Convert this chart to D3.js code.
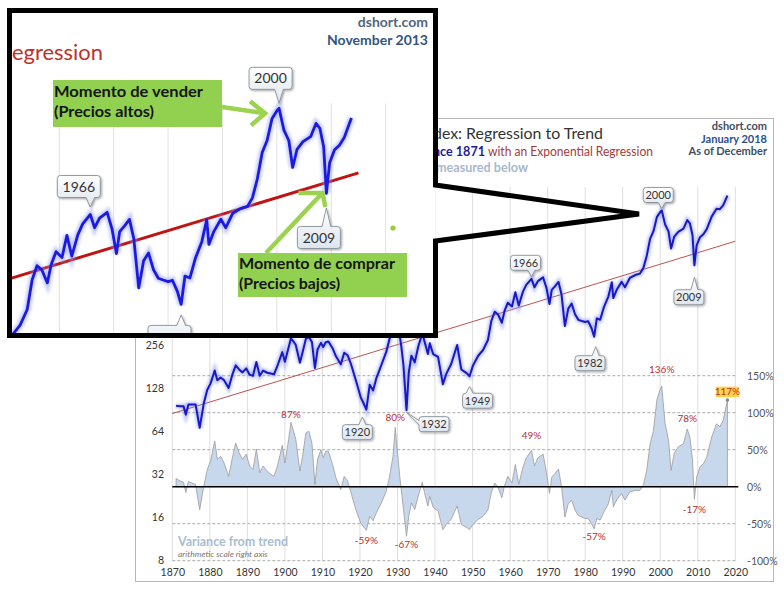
<!DOCTYPE html>
<html><head><meta charset="utf-8">
<script src="https://cdn.jsdelivr.net/npm/d3@7"></script>
<style>
body{margin:0;background:#fff;}
svg{display:block;font-family:Lato,"Open Sans",sans-serif;}
</style>
</head><body>
<svg id="c" width="784" height="592"></svg>
<script>
// ---------------- DATA ----------------
const years = [1871,1872,1873,1873.6,1874.3,1875.2,1876.2,1877.3,1878.4,1879.3,1880.2,1881.3,1882,1882.9,1883.8,1885,1886,1886.9,1887.8,1888.7,1889.7,1890.6,1891.5,1892.4,1893.3,1894.2,1895.3,1896.2,1897.1,1898,1899.3,1900,1901,1901.6,1902.2,1902.9,1904,1904.7,1905.6,1906.4,1907.2,1908,1908.7,1909.6,1910.2,1910.9,1911.6,1912.7,1913.6,1914.9,1915.8,1916.7,1917.6,1918.9,1920.2,1920.8,1921.7,1922.6,1923.5,1924.4,1925.7,1927,1927.9,1928.8,1929.4,1930,1930.6,1931,1931.6,1932.4,1933,1933.7,1934.6,1935.5,1936.6,1937.2,1938.1,1938.6,1939.5,1940.8,1942.1,1943,1944.3,1945.9,1947,1948.4,1949.2,1950.1,1951.5,1952.8,1954.1,1955,1955.9,1956.8,1957.8,1958.5,1959.4,1960.5,1961.4,1962.3,1963.4,1964.3,1965.7,1966.5,1967.4,1968.8,1969.7,1970.5,1971.1,1972,1972.9,1973.7,1974.6,1975.5,1976.4,1977.3,1978.2,1979.1,1980,1980.8,1981.7,1982.4,1983.1,1984,1985,1986.2,1987.1,1987.5,1988.4,1989.7,1990.6,1991.9,1993.3,1994.6,1995.5,1996.4,1997.3,1998.2,1999.1,2000,2000.4,2001.3,2002.2,2002.9,2003.7,2004.8,2006.2,2007.2,2007.9,2008.6,2009.1,2009.7,2010.6,2011.5,2012.4,2013.7,2015,2015.9,2016.8,2017.9];
// inflation-adjusted S&P composite (log scale, left axis)
const realPrice = [97,96,96,84,99,99,99,68,101,125,139,171,146,153,146,129,160,186,174,166,177,160,157,196,157,171,165,163,161,184,230,197,249,287,275,258,194,229,286,294,271,178,240,267,250,270,273,245,215,189,228,219,190,146,111,103,91,136,124,152,187,231,285,358,462,379,299,254,185,90,165,217,195,250,311,273,223,265,223,213,137,162,190,258,174,164,156,185,217,238,280,380,441,422,369,445,510,480,604,487,607,681,750,654,722,767,645,500,628,667,713,583,350,464,503,424,387,380,374,379,338,295,396,388,475,566,710,550,628,714,654,760,797,816,891,1084,1427,1616,2026,2202,2257,1799,1612,1222,1474,1598,1682,1931,1835,1514,933,1284,1467,1539,1672,2043,2318,2306,2462,2869];
// variance from trend, % (right axis)
const variancePct = [11,8,6,-8,7,5,3,-31,1,23,35,62,37,41,32,14,39,59,46,37,44,28,23,51,19,28,21,17,14,28,56,32,64,87,77,64,21,41,73,75,59,3,37,50,39,48,48,30,12,-4,14,8,-8,-31,-49,-53,-59,-40,-46,-35,-22,-6,14,41,80,46,14,-4,-31,-67,-40,-22,-31,-13,6,-8,-26,-13,-28,-33,-58,-51,-44,-26,-51,-55,-58,-51,-44,-40,-31,-8,5,-1,-15,1,14,5,30,3,26,39,49,28,39,44,19,-9,13,18,24,0,-41,-23,-18,-32,-39,-41,-43,-43,-50,-57,-43,-45,-34,-23,-5,-27,-18,-9,-18,-7,-5,-5,2,22,58,76,117,132,136,85,63,22,45,54,58,78,67,36,-17,13,27,31,40,67,85,81,90,117];
// exponential regression (2018 chart)
const trendYears = [1870, 2020];
const trendValues = [85.5, 1375];
// exponential regression (Nov 2013 chart, inset)
const insetTrendYears = [1940, 2015];
const insetTrendValues = [320, 1155];
const insetEndYear = 2013.85;

const xTicks = [1870,1880,1890,1900,1910,1920,1930,1940,1950,1960,1970,1980,1990,2000,2010,2020];
const leftTicks = [8,16,32,64,128,256];
const rightTicks = [-100,-50,0,50,100,150];
const insetXTicks = [1960,1970,1980,1990,2000,2010,2020];

const calloutLabels = ["2000","1966","2009","1982","1949","1920","1932"];
const calloutYears  = [2000.4,1965.7,2009.1,1982.4,1949.2,1921.7,1932.4];
const insetCalloutLabels = ["2000","1966","2009","1982"];
const insetCalloutYears  = [2000.4,1965.7,2009.1,1982.4];

const extremeYears  = [1901.6,1921.7,1929.4,1932.4,1965.7,1982.4,2000.4,2007.2,2009.1,2017.9];
const extremeValues = [87,-59,80,-67,49,-57,136,78,-17,117];

// ---------------- LAYOUT ----------------
const svg = d3.select("#c");
const defs = svg.append("defs");
const grad = defs.append("linearGradient").attr("id","cg").attr("x1",0).attr("y1",0).attr("x2",0).attr("y2",1);
grad.append("stop").attr("offset","0%").attr("stop-color","#ffffff");
grad.append("stop").attr("offset","100%").attr("stop-color","#dde5ee");
const sh = defs.append("filter").attr("id","sh").attr("x","-30%").attr("y","-30%").attr("width","160%").attr("height","160%");
sh.append("feDropShadow").attr("dx",1.2).attr("dy",1.2).attr("stdDeviation",0.9).attr("flood-color","#000").attr("flood-opacity",0.35);
const glow = defs.append("filter").attr("id","glow").attr("x","-5%").attr("y","-5%").attr("width","110%").attr("height","110%");
glow.append("feGaussianBlur").attr("stdDeviation",1.6);
defs.append("clipPath").attr("id","insetClip").append("rect").attr("x",12).attr("y",13).attr("width",421).attr("height",320);

const idx = yr => years.indexOf(yr);

function calloutPath(x, y, w, h, tx, ty, side){
  const r = 3, nw = Math.max(3.5, w*0.1);
  if(side === "bottom"){
    const nx = Math.max(x+r+nw, Math.min(x+w-r-nw, tx));
    return `M${x+r},${y}H${x+w-r}Q${x+w},${y} ${x+w},${y+r}V${y+h-r}Q${x+w},${y+h} ${x+w-r},${y+h}H${nx+nw}L${tx},${ty}L${nx-nw},${y+h}H${x+r}Q${x},${y+h} ${x},${y+h-r}V${y+r}Q${x},${y} ${x+r},${y}Z`;
  }
  if(side === "top"){
    const nx = Math.max(x+r+nw, Math.min(x+w-r-nw, tx));
    return `M${x+r},${y}H${nx-nw}L${tx},${ty}L${nx+nw},${y}H${x+w-r}Q${x+w},${y} ${x+w},${y+r}V${y+h-r}Q${x+w},${y+h} ${x+w-r},${y+h}H${x+r}Q${x},${y+h} ${x},${y+h-r}V${y+r}Q${x},${y} ${x+r},${y}Z`;
  }
  const ny = y + 5;
  return `M${x+r},${y}H${x+w-r}Q${x+w},${y} ${x+w},${y+r}V${y+h-r}Q${x+w},${y+h} ${x+w-r},${y+h}H${x+r}Q${x},${y+h} ${x},${y+h-r}V${ny+3}L${tx},${ty}L${x},${ny-1}V${y+r}Q${x},${y} ${x+r},${y}Z`;
}
function drawCallout(g, label, tx, ty, cx, cy, w, h, side, fs, showText){
  const cg = g.append("g");
  cg.append("path").attr("d", calloutPath(cx-w/2, cy-h/2, w, h, tx, ty, side))
    .attr("fill","url(#cg)").attr("stroke","#7b838c").attr("stroke-width",0.8).attr("filter","url(#sh)");
  if(showText){
    cg.append("text").attr("x",cx).attr("y",cy+fs*0.36).attr("text-anchor","middle")
      .attr("font-size",fs).attr("fill","#333").text(label);
  }
}

// ================= BACKGROUND CHART (January 2018) =================
const bg = svg.append("g");
bg.append("rect").attr("x",135.5).attr("y",118.5).attr("width",638).attr("height",463)
  .attr("fill","#fff").attr("stroke","#b8b8b8");

const x = d3.scaleLinear().domain([1870,2020]).range([172.3,735.3]);
const y = d3.scaleLog().base(2).domain([8,4096]).range([560.5,173.5]);
const yR = d3.scaleLinear().domain([-100,150]).range([560.7,375.7]);

bg.append("g").selectAll("line").data(xTicks).join("line")
  .attr("x1",d=>x(d)).attr("x2",d=>x(d)).attr("y1",187).attr("y2",561)
  .attr("stroke","#dedede").attr("stroke-width",1);
bg.append("g").selectAll("line").data(rightTicks.filter(d=>d!==0)).join("line")
  .attr("x1",x(1870)).attr("x2",x(2020)+2).attr("y1",d=>yR(d)).attr("y2",d=>yR(d))
  .attr("stroke","#a0a0a0").attr("stroke-width",0.9).attr("stroke-dasharray","3,2");

const axB = bg.append("g").attr("transform","translate(0,566)")
  .call(d3.axisBottom(x).tickValues(xTicks).tickSize(0).tickPadding(3).tickFormat(d3.format("d")));
axB.select(".domain").remove();
axB.selectAll("text").attr("font-size",10.5).attr("fill","#333").attr("font-family","Lato,sans-serif");
const axL = bg.append("g").attr("transform","translate(164,0)")
  .call(d3.axisLeft(y).tickValues(leftTicks).tickSize(0).tickPadding(0).tickFormat(d3.format("d")));
axL.select(".domain").remove();
axL.selectAll("text").attr("font-size",10.5).attr("fill","#333").attr("font-family","Lato,sans-serif");
const axR = bg.append("g").attr("transform","translate(747,0)")
  .call(d3.axisRight(yR).tickValues(rightTicks).tickSize(0).tickPadding(0).tickFormat(d=>d+"%"));
axR.select(".domain").remove();
axR.selectAll("text").attr("font-size",10.5).attr("fill","#555").attr("font-family","Lato,sans-serif");

const ids = d3.range(years.length);
bg.append("path").datum(ids)
  .attr("d", d3.area().x(i=>x(years[i])).y0(yR(0)).y1(i=>yR(variancePct[i])))
  .attr("fill","#c7d7ec").attr("stroke","#9a9a9a").attr("stroke-width",0.8);
bg.append("line").attr("x1",x(1870)).attr("x2",x(2020)+3).attr("y1",yR(0)).attr("y2",yR(0))
  .attr("stroke","#000").attr("stroke-width",1.6);

bg.append("path").datum([0,1])
  .attr("d", d3.line().x(i=>x(trendYears[i])).y(i=>y(trendValues[i])))
  .attr("fill","none").attr("stroke","#b9544c").attr("stroke-width",1);

const priceLine = d3.line().x(i=>x(years[i])).y(i=>y(realPrice[i]));
bg.append("path").datum(ids).attr("d",priceLine)
  .attr("fill","none").attr("stroke","#7f8ef0").attr("stroke-width",5).attr("opacity",0.55).attr("filter","url(#glow)");
bg.append("path").datum(ids).attr("d",priceLine)
  .attr("fill","none").attr("stroke","#1818c4").attr("stroke-width",2).attr("stroke-linejoin","round");

const labelDy = {"87":-4,"80":-7,"49":-11,"136":-13,"78":-7,"117":-5,"-59":14,"-67":12,"-57":11,"-17":14};
extremeYears.forEach((yr,k)=>{
  const v = extremeValues[k];
  const lx = x(yr), ly = yR(v) + labelDy[String(v)];
  if(v === 117){
    bg.append("rect").attr("x",lx-11.5).attr("y",ly-8.5).attr("width",23).attr("height",10.5).attr("fill","#ffd24a");
    bg.append("circle").attr("cx",lx).attr("cy",yR(v)).attr("r",1.8).attr("fill","#888");
  }
  bg.append("text").attr("x",lx).attr("y",ly).attr("text-anchor","middle")
    .attr("font-size",10).attr("fill","#b8312f").text(v+"%");
});

bg.append("text").attr("x",178).attr("y",546).attr("font-size",13).attr("font-weight","bold")
  .attr("fill","#a9bdd3").attr("textLength",110).attr("lengthAdjust","spacingAndGlyphs").text("Variance from trend");
bg.append("text").attr("x",178).attr("y",557).attr("font-size",8.5).attr("font-style","italic")
  .attr("fill","#777").text("arithmetic scale right axis");

const bgCalloutLayout = {
  "2000":{tip:[0,-2],box:[-3.5,-13.5],side:"bottom"},
  "1966":{tip:[0,-2],box:[-6,-14],side:"bottom"},
  "2009":{tip:[0,12],box:[-5.5,20],side:"top"},
  "1982":{tip:[1.5,10],box:[-5.7,16.5],side:"top"},
  "1949":{tip:[0,10.5],box:[8,14],side:"top"},
  "1920":{tip:[-4,7.5],box:[-5,15],side:"top"},
  "1932":{tip:[0,2],box:[27.5,11.8],side:"left"}
};
calloutLabels.forEach((lab,k)=>{
  const i = idx(calloutYears[k]);
  const L = bgCalloutLayout[lab];
  const tx = x(years[i]) + L.tip[0], ty = y(realPrice[i]) + L.tip[1];
  drawCallout(bg, lab, tx, ty, tx+L.box[0], ty+L.box[1], 30, 15, L.side, 11, true);
});

bg.append("text").attr("x",433).attr("y",139).attr("font-size",15.5).attr("fill","#333")
  .attr("textLength",170).attr("lengthAdjust","spacingAndGlyphs").text("dex: Regression to Trend");
bg.append("text").attr("x",433).attr("y",156).attr("font-size",13).attr("font-weight","bold").attr("fill","#1d1d9a")
  .attr("textLength",52).attr("lengthAdjust","spacingAndGlyphs").text("nce 1871");
bg.append("text").attr("x",488).attr("y",156).attr("font-size",13).attr("fill","#a63a3a")
  .attr("textLength",165).attr("lengthAdjust","spacingAndGlyphs").text("with an Exponential Regression");
bg.append("text").attr("x",436).attr("y",172).attr("font-size",13).attr("font-weight","bold").attr("fill","#aab8cc")
  .attr("textLength",92).attr("lengthAdjust","spacingAndGlyphs").text("measured below");
[["dshort.com",130,"#3e4f62"],["January 2018",142.7,"#2b4f8c"],["As of December",155,"#3e4f62"]].forEach(t=>{
  bg.append("text").attr("x",767).attr("y",t[1]).attr("text-anchor","end").attr("font-size",11)
    .attr("font-weight","bold").attr("fill",t[2]).text(t[0]);
});

// ================= INSET (November 2013 chart, zoomed) =================
svg.append("rect").attr("x",9.5).attr("y",10.5).attr("width",426).attr("height",325).attr("fill","#fff");
const ins = svg.append("g").attr("clip-path","url(#insetClip)");
const xi = d3.scaleLinear().domain([1960,2020]).range([59.3,385.7]);
const yi = d3.scaleLog().base(2).domain([256,2048]).range([318.1,117.7]);

ins.append("g").selectAll("line").data(insetXTicks).join("line")
  .attr("x1",d=>xi(d)).attr("x2",d=>xi(d)).attr("y1",103).attr("y2",336)
  .attr("stroke","#e2e2e2").attr("stroke-width",1);

ins.append("text").attr("x",12).attr("y",60).attr("font-size",22)
  .attr("fill","#c0302c").attr("textLength",91).attr("lengthAdjust","spacingAndGlyphs").text("egression");
ins.append("text").attr("x",428).attr("y",27).attr("text-anchor","end").attr("font-size",14)
  .attr("font-weight","bold").attr("fill","#56657a").text("dshort.com");
ins.append("text").attr("x",428).attr("y",45).attr("text-anchor","end").attr("font-size",14)
  .attr("font-weight","bold").attr("fill","#34557c").text("November 2013");

ins.append("path").datum([0,1])
  .attr("d", d3.line().x(i=>xi(insetTrendYears[i])).y(i=>yi(insetTrendValues[i])))
  .attr("fill","none").attr("stroke","#c01414").attr("stroke-width",3);

const insIds = ids.filter(i=>years[i] <= insetEndYear && years[i] >= 1940);
const insLine = d3.line().x(i=>xi(years[i])).y(i=>yi(realPrice[i]));
ins.append("path").datum(insIds).attr("d",insLine)
  .attr("fill","none").attr("stroke","#8d98f2").attr("stroke-width",7).attr("opacity",0.5).attr("filter","url(#glow)");
ins.append("path").datum(insIds).attr("d",insLine)
  .attr("fill","none").attr("stroke","#1b1be0").attr("stroke-width",2.8).attr("stroke-linejoin","round");

const insCalloutLayout = {
  "2000":{tip:[0,-5],box:[-8.5,-25],side:"bottom",text:true},
  "1966":{tip:[0,-7.5],box:[-11.5,-20.5],side:"bottom",text:true},
  "2009":{tip:[0,14.5],box:[-7.5,29.5],side:"top",text:true},
  "1982":{tip:[0,10.5],box:[-11.7,21.5],side:"top",text:false}  // label falls below the crop
};
insetCalloutLabels.forEach((lab,k)=>{
  const i = idx(insetCalloutYears[k]);
  const L = insCalloutLayout[lab];
  const tx = xi(years[i]) + L.tip[0], ty = yi(realPrice[i]) + L.tip[1];
  drawCallout(ins, lab, tx, ty, tx+L.box[0], ty+L.box[1], 43, 22, L.side, 14, L.text);
});

const green = "#92d050";
function greenBox(x0,y0,w,h,l1,l2,b1,b2,w1,w2){
  ins.append("rect").attr("x",x0).attr("y",y0).attr("width",w).attr("height",h).attr("fill",green);
  ins.append("text").attr("x",x0+1).attr("y",b1).attr("font-size",16).attr("font-weight","bold").attr("fill","#151515")
    .attr("textLength",w1).attr("lengthAdjust","spacingAndGlyphs").text(l1);
  ins.append("text").attr("x",x0+1).attr("y",b2).attr("font-size",16).attr("font-weight","bold").attr("fill","#151515")
    .attr("textLength",w2).attr("lengthAdjust","spacingAndGlyphs").text(l2);
}
greenBox(53,80,169,47,"Momento de vender","(Precios altos)",97,117,149,100);
greenBox(238,253,169,44,"Momento de comprar","(Precios bajos)",269,289,156,101);

const iPeak = idx(2000.4), iLow = idx(2009.1);
const tip1 = [xi(years[iPeak]) - 14, yi(realPrice[iPeak]) + 5];
const tip2 = [xi(years[iLow]) - 4, yi(realPrice[iLow]) - 0.5];
const arrowG = ins.append("g").attr("stroke","#9bd34f").attr("stroke-width",4.5).attr("fill","none").attr("stroke-linecap","butt");
arrowG.append("path").attr("d",`M222,107L${tip1[0]},${tip1[1]}M${tip1[0]-15},${tip1[1]-12}L${tip1[0]},${tip1[1]}L${tip1[0]-14},${tip1[1]+12}`);
arrowG.append("path").attr("d",`M266,253L${tip2[0]},${tip2[1]}M${tip2[0]-24},${tip2[1]}L${tip2[0]},${tip2[1]}L${tip2[0]+3},${tip2[1]+14}`);
ins.append("circle").attr("cx",393).attr("cy",228).attr("r",2.6).attr("fill","#9acd32");

svg.append("path")
  .attr("d","M435.5,185L435.5,10.5L9.5,10.5L9.5,335.5L435.5,335.5L435.5,241L639,214Z")
  .attr("fill","none").attr("stroke","#000").attr("stroke-width",5);
</script>
</body></html>
